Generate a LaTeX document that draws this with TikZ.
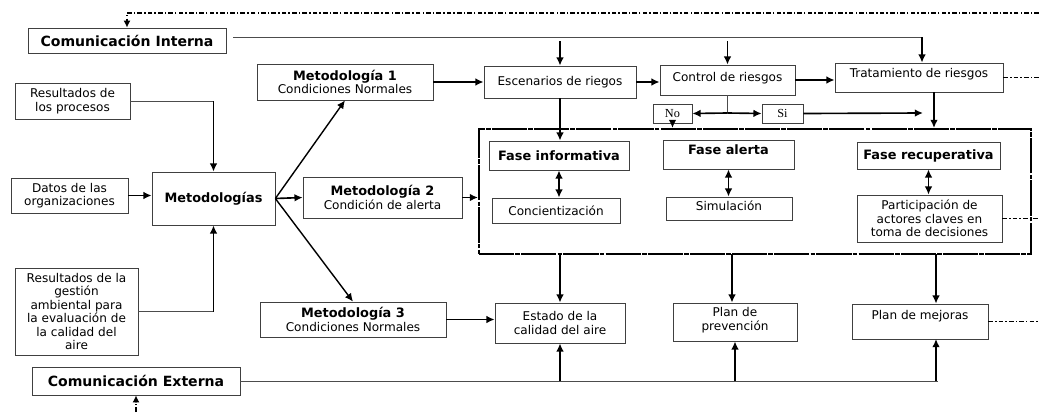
\documentclass[tikz,border=0pt]{standalone}
\usepackage{fontspec}
\setmainfont{DejaVu Sans}
\newfontfamily\yesnofont{Liberation Serif}
\usetikzlibrary{fit,calc,arrows.meta}
\newcommand{\boldtxt}[1]{{\fontsize{11}{12}\selectfont\bfseries #1}}

\begin{document}
\begin{tikzpicture}[x=0.03cm,y=-0.03cm,thick]
    % `box' is used for every framed text, `corners' puts it between two corners.
    % `arr' for the heavy arrows, `feed' is the dash-dotted feedback line,
    % `phases' the frame round the three phases.
    \tikzstyle{box} = [draw=black!75,line width=0.6pt,inner sep=1pt,align=center,font=\fontsize{10.3}{11.5}\selectfont]
    \tikzset{corners/.style n args={4}{at={({(#1+#3)/2},{(#2+#4)/2})},minimum width={(#3-#1)*0.03cm},minimum height={(#4-#2)*0.03cm}}}
    \tikzstyle{arr} = [line width=1.4pt,-{Latex[length=7pt,width=6.5pt]}]
    \tikzstyle{twoway} = [line width=1.4pt,{Latex[length=7pt,width=6.5pt]}-{Latex[length=7pt,width=6.5pt]}]
    \tikzstyle{comline} = [draw=black!70,line width=0.6pt]
    \tikzstyle{feed} = [line width=1.2pt,dash pattern=on 4pt off 1.8pt on 1.2pt off 1.8pt]
    \tikzstyle{phases} = [draw,line width=1.7pt,dash pattern=on 30pt off 1pt on 4pt off 1pt,inner sep=0pt]
    \useasboundingbox (0,0) rectangle (1039,412);
    %
    % communication boxes
    \node[box, corners={28}{28}{226}{53}] (ci) {{\fontsize{12}{13}\selectfont\bfseries Comunicación Interna}};
    \node[box, corners={32}{367}{240}{395}] (ce) {{\fontsize{12}{13}\selectfont\bfseries Comunicación Externa}};
    % inputs
    \node[box, corners={15}{83}{130}{119}] (rp) {Resultados de\\los procesos};
    \node[box, corners={11}{178}{128}{213}] (dat) {Datos de las\\organizaciones};
    \node[box, corners={15}{268}{138}{355}] (rg) {Resultados de la\\gestión\\ambiental para\\la evaluación de\\la calidad del\\aire};
    % methodologies
    \node[box, corners={152}{172}{275}{225}] (met) {\boldtxt{Metodologías}};
    \node[box, corners={257}{64}{433}{100}] (m1) {\boldtxt{Metodología 1}\\Condiciones Normales};
    \node[box, corners={303}{177}{462}{218}] (m2) {\boldtxt{Metodología 2}\\Condición de alerta};
    \node[box, corners={260}{302}{446}{337}] (m3) {\boldtxt{Metodología 3}\\Condiciones Normales};
    % risk chain
    \node[box, corners={484}{66}{636}{98}] (esc) {Escenarios de riegos};
    \node[box, corners={660}{65}{795}{95}, text depth=5pt] (ctr) {Control de riesgos};
    \node[box, corners={835}{63}{1003}{92}, text depth=8pt] (trat) {Tratamiento de riesgos};
    \node[box, corners={653}{104}{692}{123}, font=\yesnofont\fontsize{10.5}{11}\selectfont] (no) {No};
    \node[box, corners={762}{104}{803}{123}, font=\yesnofont\fontsize{10.5}{11}\selectfont] (si) {Si};
    % phases
    \node[phases, fit={(479,129) (1031,254)}] (fases) {};
    \node[box, corners={489}{141}{629}{170}] (finf) {\boldtxt{Fase informativa}};
    \node[box, corners={492}{198}{620}{223}] (conc) {Concientización};
    \node[box, corners={663}{140}{794}{169}, text depth=8pt] (falr) {\boldtxt{Fase alerta}};
    \node[box, corners={666}{197}{792}{220}, text depth=5pt] (sim) {Simulación};
    \node[box, corners={857}{142}{1000}{169}] (frec) {\boldtxt{Fase recuperativa}};
    \node[box, corners={857}{195}{1002}{242}] (part) {Participación de\\actores claves en\\toma de decisiones};
    % results
    \node[box, corners={495}{303}{625}{343}] (est) {Estado de la\\calidad del aire};
    \node[box, corners={673}{303}{797}{341}, text depth=5pt] (prev) {Plan de\\prevención};
    \node[box, corners={852}{304}{988}{339}, text depth=12pt] (mej) {Plan de mejoras};
    %
    \coordinate (fbtop) at (1039,13);
    \coordinate (fbbot) at (136,412);
    \coordinate (ciend) at (922,37);
    \coordinate (ceend) at (938,381);
    \coordinate (jn) at (727.5,113);
    \coordinate (sitip) at (923,113);
    \coordinate (tratdn) at (934,92);
    \coordinate (mejup) at (936,254);
    \coordinate (mejdn) at (936,339);
    \coordinate (prevup) at (732,254);
    \coordinate (rpj) at (met.north |- rp.east);
    \coordinate (rgj) at (met.south |- rg.east);
    \coordinate (escup) at (560,41);
    \coordinate (ctrup) at (727.5,41);
    %
    % feedback lines
    \draw[feed,-{Latex[length=6pt,width=6pt]}] (fbtop) -| (ci.north);
    \draw[feed,-{Latex[length=6pt,width=6pt]}] (fbbot) -- (ce.south);
    \draw[feed] (trat.east) -- (trat.east -| fbtop);
    \draw[feed] (part.east) -- (part.east -| fbtop);
    \draw[feed] (mej.east) -- (mej.east -| fbtop);
    % inputs to methodologies
    \draw[comline] (rp.east) -- (rpj);
    \draw[arr] (rpj) -- (met.north);
    \draw[arr] (dat.east) -- (dat.east -| met.west);
    \draw[comline] (rg.east) -- (rgj);
    \draw[arr] (rgj) -- (met.south);
    \draw[arr,line width=1.2pt] (met.east) -- (m1.south);
    \draw[arr] (met.east) -- (m2.west);
    \draw[arr,line width=1.2pt] (met.east) -- (m3.north);
    \draw[arr] (m1.east) -- (m1.east -| esc.west);
    \draw[arr] (m2.east) -- (m2.east -| fases.west);
    \draw[arr] (m3.east) -- (m3.east -| est.west);
    % internal communication
    \draw[comline] (ci.east) ++(7,-3.5) -- (ciend);
    \draw[arr] (escup) -- (esc.north);
    \draw[arr] (ctrup) -- (ctr.north);
    \draw[arr] (ciend) -- (ciend |- trat.north);
    \draw[arr] (esc.east) -- (esc.east -| ctr.west);
    \draw[arr] (ctr.east) -- (ctr.east -| trat.west);
    \draw[comline] (ctr.south) -- (jn);
    \draw[arr] (jn) -- (no.east);
    \draw[arr] (jn) -- (si.west);
    \draw[arr] (si.east) -- (sitip);
    \draw[arr] (no.south) -- (no.south |- fases.north);
    \draw[arr] (esc.south) -- (esc.south |- finf.north);
    \draw[arr] (tratdn) -- (tratdn |- fases.north);
    % inside the phases
    \draw[twoway] (finf.south) -- (finf.south |- conc.north);
    \draw[twoway] (falr.south) -- (falr.south |- sim.north);
    \draw[twoway] (frec.south) -- (frec.south |- part.north);
    % phases to results
    \draw[arr] (est.north |- fases.south) -- (est.north);
    \draw[arr] (prevup) -- (prevup |- prev.north);
    \draw[arr] (mejup) -- (mejup |- mej.north);
    % external communication
    \draw[comline] (ce.east) -- (ceend);
    \draw[arr] (est.south |- ceend) -- (est.south);
    \draw[arr] (prev.south |- ceend) -- (prev.south);
    \draw[arr] (mejdn |- ceend) -- (mejdn);
\end{tikzpicture}
\end{document}
